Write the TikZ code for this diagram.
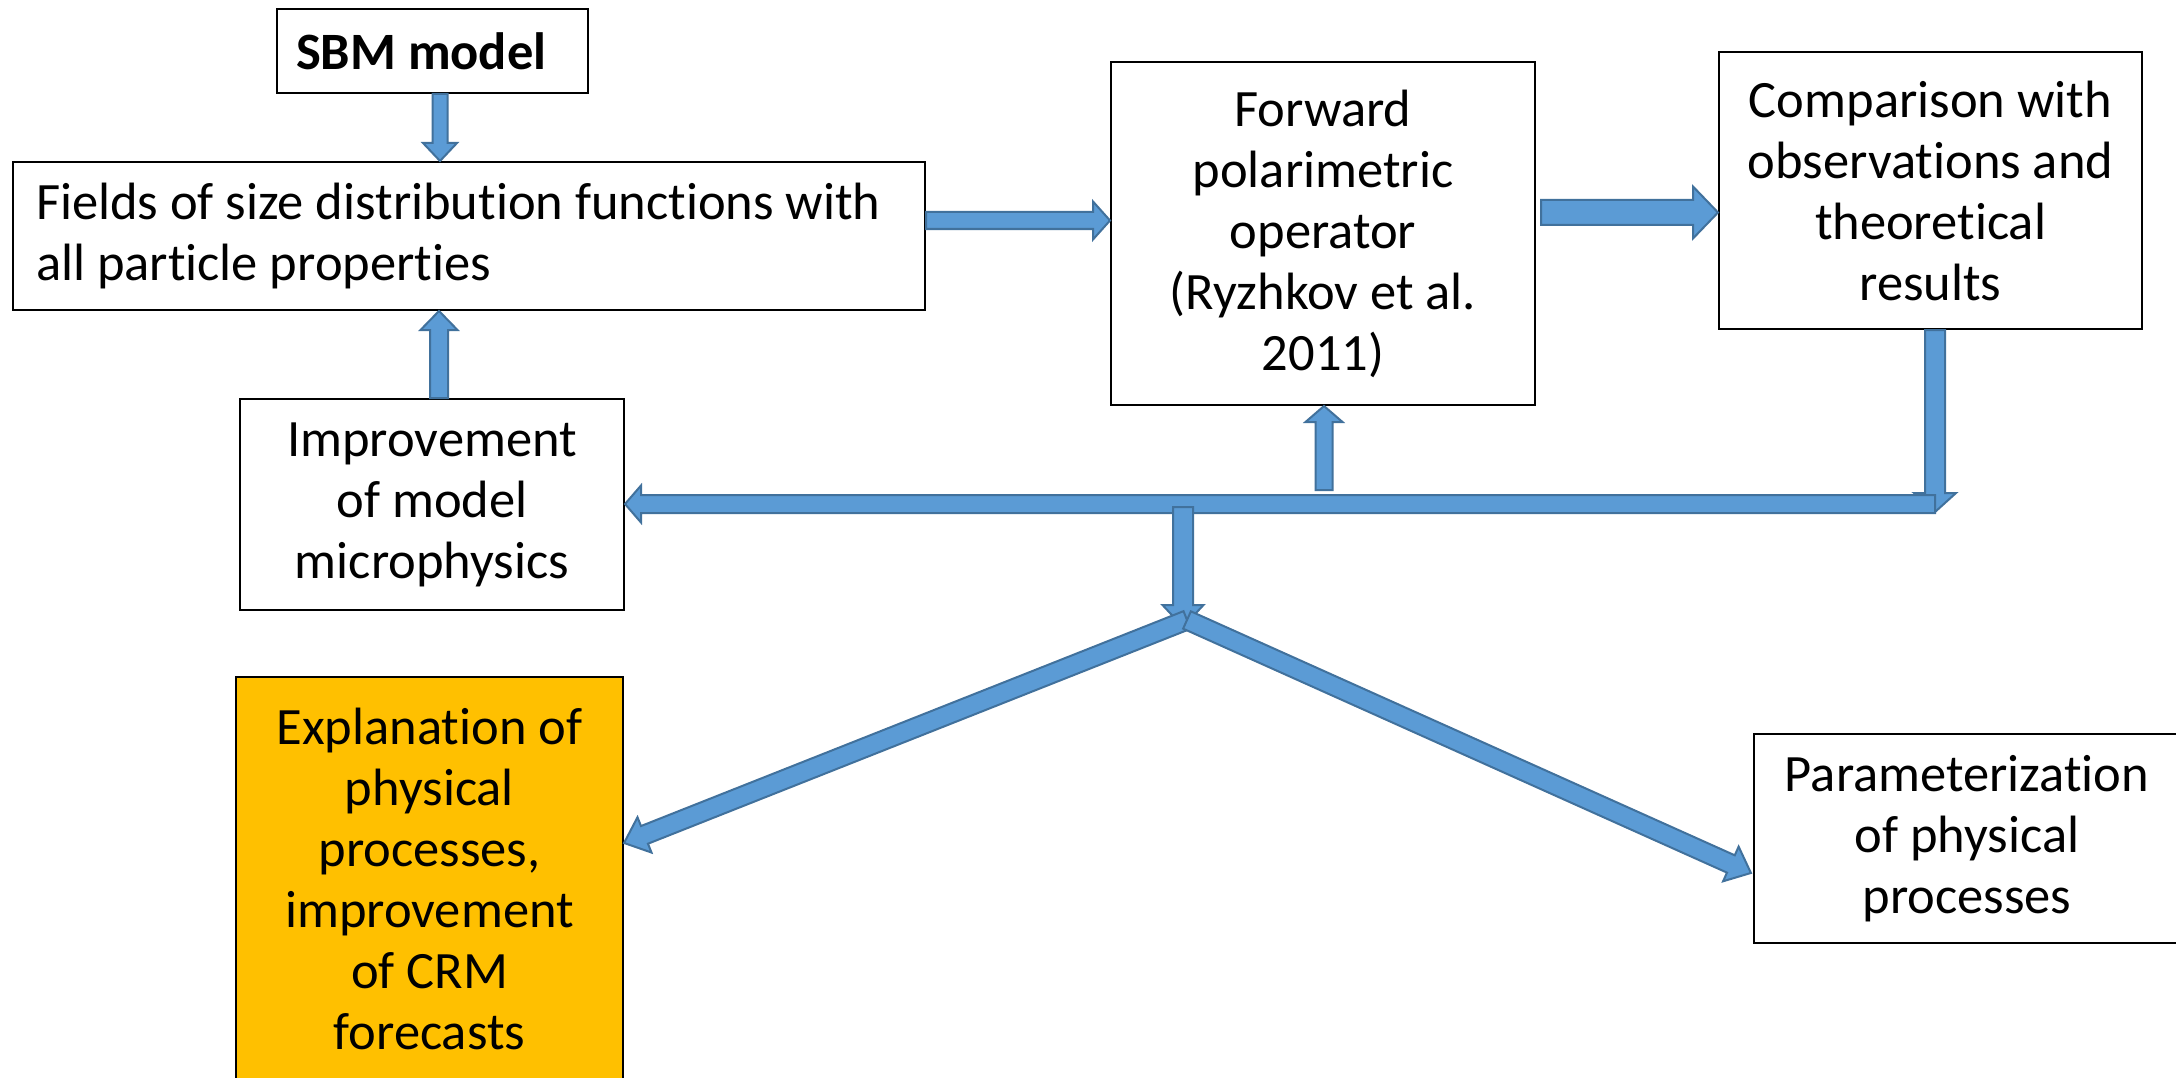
\documentclass[tikz,border=0pt]{standalone}
\usepackage{fontspec}
\setmainfont[Ligatures=NoCommon]{Carlito}
\usetikzlibrary{calc}

\definecolor{arrowfill}{HTML}{5B9BD5}
\definecolor{arrowline}{HTML}{41719C}
\definecolor{amber}{HTML}{FFC000}

\tikzset{
  box/.style={draw=black, line width=2pt, fill=white, inner sep=0pt,
    align=center, anchor=north west, font=\fontsize{52.5pt}{61pt}\selectfont},
  blk/.style={fill=arrowfill, draw=arrowline, line width=2pt, line join=miter},
}

% Block arrow: #1 start, #2 tip, #3 half shaft width, #4 half head width, #5 head length (pt)
\newcommand\blockarrow[5]{%
  \draw[blk] let \p1=(#1), \p2=(#2),
      \n1={veclen(\x2-\x1,\y2-\y1)}, \n2={atan2(\y2-\y1,\x2-\x1)} in
    [shift={(\p1)}, rotate=\n2]
    (0pt,-#3pt) -- ({\n1-#5pt},-#3pt) -- ({\n1-#5pt},-#4pt) -- ({\n1},0pt)
    -- ({\n1-#5pt},#4pt) -- ({\n1-#5pt},#3pt) -- (0pt,#3pt) -- cycle;}

\begin{document}
\begin{tikzpicture}[x=1pt,y=-1pt]
\fill[white] (0,0) rectangle (2176,1078);
\useasboundingbox (0,0) rectangle (2176,1078);

% boxes
\node[box, align=flush left, text width=273pt, inner xsep=19pt, minimum height=84pt] (sbm) at (276,8)
  {\mbox{\bfseries SBM model}};
\node[box, align=flush left, text width=866pt, inner xsep=23pt, minimum height=148pt] (fields) at (12,161)
  {\mbox{Fields of size distribution functions with}\\\mbox{all particle properties}};
\node[box, minimum width=424pt, minimum height=343pt] (forward) at (1110,61)
  {Forward\\polarimetric\\operator\\(Ryzhkov et al.\\2011)};
\node[box, minimum width=423pt, minimum height=277pt] (compare) at (1718,51)
  {Comparison with\\observations and\\theoretical\\results};
\node[box, minimum width=384pt, minimum height=211pt] (improve) at (239,398)
  {Improvement\\of model\\microphysics};
\node[box, fill=amber, minimum width=387pt, minimum height=404pt] (explain) at (235,676)
  {Explanation of\\physical\\processes,\\improvement\\of CRM\\forecasts};
\node[box, minimum width=426pt, minimum height=209pt] (param) at (1753,733)
  {Parameterization\\of physical\\processes};

% connector anchor points
\coordinate (s1) at ([xshift=7.5pt]sbm.south);
\coordinate (f1) at ([yshift=15.5pt]fields.east);
\coordinate (f2) at ([xshift=5pt,yshift=21pt]forward.east);
\coordinate (i1) at ([xshift=7pt]improve.north);
\coordinate (c1) at ([xshift=4.5pt]compare.south);
\coordinate (barR) at (1935,504);
\coordinate (jn) at (1187,620);
\coordinate (b1) at ($(forward.south |- barR)+(1,-14)$);

% block arrows
\blockarrow{s1}{s1 |- fields.north}{7.5}{17}{18}
\blockarrow{f1}{f1 -| forward.west}{8.5}{19}{17}
\blockarrow{f2}{f2 -| compare.west}{12.5}{26}{25}
\blockarrow{i1}{i1 |- fields.south}{9}{18.5}{19}
\blockarrow{c1}{$(c1 |- barR)+(0,8)$}{10}{21}{19}
\blockarrow{barR}{barR -| improve.east}{9}{18.5}{16}
\blockarrow{b1}{b1 |- forward.south}{8.5}{18.5}{16}
\blockarrow{$(jn |- barR)+(-4,3)$}{$(jn)+(-4,7)$}{10}{20.5}{22}
\blockarrow{jn}{$(explain.east)+(0,-36)$}{9.5}{19}{22}
\blockarrow{jn}{$(param.west)+(-2,34.5)$}{9.5}{19}{22}
\end{tikzpicture}
\end{document}
